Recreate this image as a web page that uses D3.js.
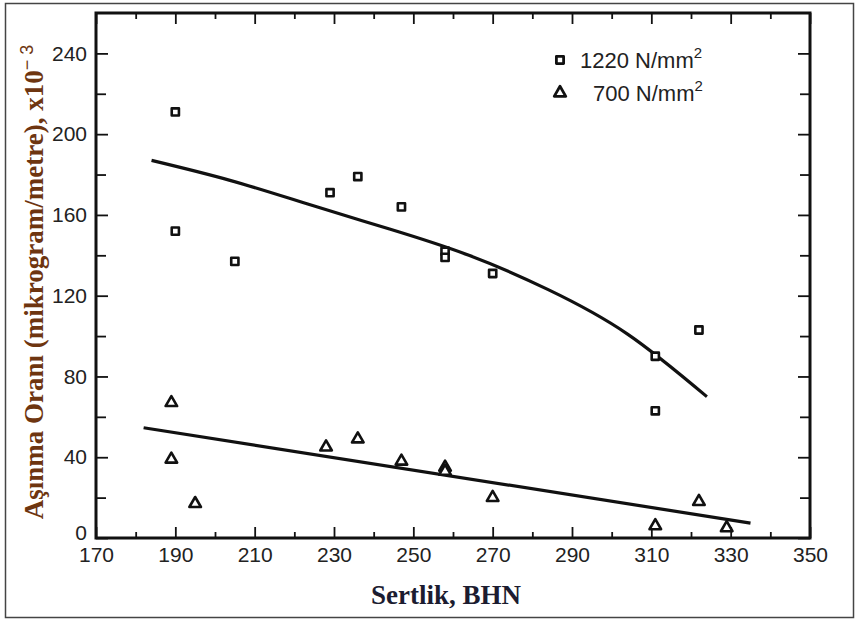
<!DOCTYPE html>
<html lang="tr">
<head>
  <meta charset="utf-8" />
  <title>Aşınma Oranı - Sertlik</title>
  <script src="https://d3js.org/d3.v7.min.js"></script>
  <style>
    body { margin: 0; background: #fff; }
    svg { display: block; }
    .tick text { font-family: "Liberation Sans", Arial, sans-serif; font-size: 21px; fill: #222; }
  </style>
</head>
<body>
<svg id="chart" width="858" height="622"></svg>
<script>
  // 1220 N/mm2 measurements (hardness BHN, wear rate x10^-3)
  const hard1220 = [190, 190, 205, 229, 236, 247, 258, 258, 270, 311, 322, 311];
  const wear1220 = [211, 152, 137, 171, 179, 164, 142, 139, 131, 90, 103, 63];

  // 700 N/mm2 measurements
  const hard700 = [189, 189, 195, 228, 236, 247, 258, 258, 270, 311, 322, 329];
  const wear700 = [67, 39, 17, 45, 49, 38, 35, 33, 20, 6, 18, 5];

  // fitted curves
  const fitHard1220 = [184, 204, 224, 244, 264, 284, 304, 324];
  const fitWear1220 = [187, 177, 165, 153, 140, 123, 101, 70];
  const fitHard700 = [182, 335];
  const fitWear700 = [54.6, 7.4];

  const xTicks = [170, 190, 210, 230, 250, 270, 290, 310, 330, 350];
  const yTicks = [0, 40, 80, 120, 160, 200, 240];

  const svg = d3.select('#chart');
  const mLeft = 96, mTop = 13, w = 714, h = 525;

  // outer border of the picture
  svg.append('rect')
    .attr('x', 5.5).attr('y', 3.5).attr('width', 848).attr('height', 614)
    .attr('fill', 'none').attr('stroke', '#444').attr('stroke-width', 1.5);

  const x = d3.scaleLinear().domain([170, 350]).range([0, w]);
  const y = d3.scaleLinear().domain([0, 260]).range([h, 0]);

  const g = svg.append('g').attr('transform', `translate(${mLeft},${mTop})`);

  const minorX = d3.range(180, 350, 20);
  const minorY = d3.range(20, 260, 40);

  // ticks pointing inward on all four sides
  function ticks(axis, vals, size, labels) {
    return axis.tickValues(vals).tickSize(-size).tickPadding(labels ? 9 : 0)
      .tickFormat(labels ? d3.format('d') : '');
  }
  function addAxis(axisFn, tr, vals, size, labels) {
    const a = g.append('g').attr('transform', tr).call(ticks(axisFn, vals, size, labels));
    a.select('.domain').remove();
    a.selectAll('line').attr('stroke', '#111').attr('stroke-width', 1.8);
    return a;
  }
  addAxis(d3.axisBottom(x), `translate(0,${h})`, xTicks, 11, true);
  addAxis(d3.axisBottom(x), `translate(0,${h})`, minorX, 6, false);
  addAxis(d3.axisTop(x), 'translate(0,0)', xTicks, 11, false);
  addAxis(d3.axisTop(x), 'translate(0,0)', minorX, 6, false);
  const yAx = addAxis(d3.axisLeft(y), 'translate(0,0)', yTicks, 12, true);
  yAx.selectAll('text').filter(d => d === 0).attr('dy', '0.05em');
  addAxis(d3.axisLeft(y), 'translate(0,0)', minorY, 10, false);
  addAxis(d3.axisRight(y), `translate(${w},0)`, yTicks, 12, false);
  addAxis(d3.axisRight(y), `translate(${w},0)`, minorY, 10, false);

  g.append('rect')
    .attr('width', w).attr('height', h)
    .attr('fill', 'none').attr('stroke', '#111').attr('stroke-width', 3);

  // fitted lines
  const line = d3.line().curve(d3.curveNatural)
    .x(d => x(d[0])).y(d => y(d[1]));
  g.append('path')
    .attr('d', line(fitHard1220.map((v, i) => [v, fitWear1220[i]])))
    .attr('fill', 'none').attr('stroke', '#111').attr('stroke-width', 3.2);
  g.append('path')
    .attr('d', line(fitHard700.map((v, i) => [v, fitWear700[i]])))
    .attr('fill', 'none').attr('stroke', '#111').attr('stroke-width', 3.2);

  // markers
  const square = d3.symbol().type(d3.symbolSquare).size(52);
  const tri = d3.symbol().type(d3.symbolTriangle).size(58);

  g.selectAll('.sq')
    .data(hard1220.map((v, i) => [v, wear1220[i]]))
    .enter().append('path')
    .attr('class', 'sq')
    .attr('d', square)
    .attr('transform', d => `translate(${x(d[0])},${y(d[1])})`)
    .attr('fill', '#fff').attr('stroke', '#111').attr('stroke-width', 2.6)
    .attr('stroke-linejoin', 'round');

  g.selectAll('.tr')
    .data(hard700.map((v, i) => [v, wear700[i]]))
    .enter().append('path')
    .attr('class', 'tr')
    .attr('d', tri)
    .attr('transform', d => `translate(${x(d[0])},${y(d[1])})`)
    .attr('fill', '#fff').attr('stroke', '#111').attr('stroke-width', 2.6)
    .attr('stroke-linejoin', 'round');

  // legend
  const legend = [
    { sym: square, label: '1220 N/mm', ty: 47, tx: 484 },
    { sym: tri, label: '700 N/mm', ty: 80, tx: 497 }
  ];
  legend.forEach(d => {
    g.append('path').attr('d', d.sym)
      .attr('transform', `translate(464,${d.ty})`)
      .attr('fill', '#fff').attr('stroke', '#111').attr('stroke-width', 2.8)
      .attr('stroke-linejoin', 'round');
    const t = g.append('text')
      .attr('x', d.tx).attr('y', d.ty + 8)
      .attr('font-family', '"Liberation Sans", Arial, sans-serif')
      .attr('font-size', 22).attr('fill', '#222')
      .text(d.label);
    t.append('tspan').attr('dy', -10).attr('font-size', 15).text('2');
  });

  // axis titles
  svg.append('text')
    .attr('x', 446).attr('y', 604)
    .attr('text-anchor', 'middle')
    .attr('font-family', '"Liberation Serif", "Times New Roman", serif')
    .attr('font-weight', 'bold').attr('font-size', 27)
    .attr('fill', '#1c1c30')
    .text('Sertlik, BHN');

  const yt = svg.append('text')
    .attr('transform', 'translate(43,282) rotate(-90)')
    .attr('text-anchor', 'middle')
    .attr('font-family', '"Liberation Serif", "Times New Roman", serif')
    .attr('font-weight', 'bold').attr('font-size', 27)
    .attr('fill', '#6e3510')
    .text('Aşınma Oranı (mikrogram/metre), x10');
  yt.append('tspan').attr('dy', -10).attr('font-size', 18).attr('font-weight', 'normal')
    .attr('font-family', '"Liberation Sans", Arial, sans-serif')
    .text('\u2212 3');
</script>
</body>
</html>
